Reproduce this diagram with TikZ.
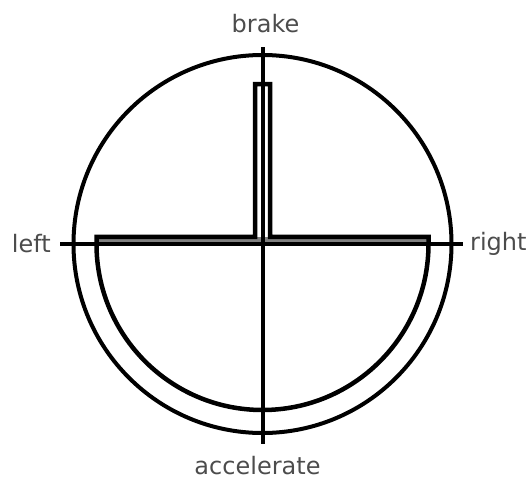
\documentclass[tikz,border=0pt]{standalone}
\usepackage{fontspec}
\setmainfont{DejaVu Sans}
\usepackage{tikz}
\usetikzlibrary{positioning,calc}
\tikzset{
  dirlabel/.style={font=\fontsize{24}{27}\selectfont, text=black!70, inner sep=0pt},
  rimline/.style={line width=4pt, black},
  crossline/.style={line width=4pt, black},
  gateline/.style={line width=4.5pt, black, line join=miter},
}

\begin{document}
\begin{tikzpicture}[x=1pt, y=-1pt]
  \useasboundingbox (0,0) rectangle (529,482);
  \coordinate (c) at (262.5,244);
  % outer rim
  \draw[rimline] (c) circle[radius=189];
  % cross
  \coordinate (top) at (262.5,47);
  \coordinate (bot) at (262.5,444);
  \coordinate (lft) at (60,244);
  \coordinate (rgt) at (463,244);
  % grey strip under the gate bar
  \fill[black!50] (96.5,237) rectangle (428.5,244);
  \draw[crossline] (top) -- (bot);
  \draw[crossline] (lft) -- (rgt);
  % gate outline
  \draw[gateline] (96.5,244) -- (96.5,236.8) -- (255,236.8) -- (255,84)
    -- (270,84) -- (270,236.8) -- (428.5,236.8) -- (428.5,244)
    arc[start angle=0, end angle=180, radius=166];
  % labels
  \node[dirlabel, anchor=base] (brake) at ($(top)+(3,-15)$) {brake};
  \node[dirlabel, anchor=base] (accel) at ($(bot)+(-5,30)$) {accelerate};
  \node[dirlabel, left=9pt of lft] (left) {left};
  \node[dirlabel, right=7pt of rgt] (right) {right};
\end{tikzpicture}
\end{document}
